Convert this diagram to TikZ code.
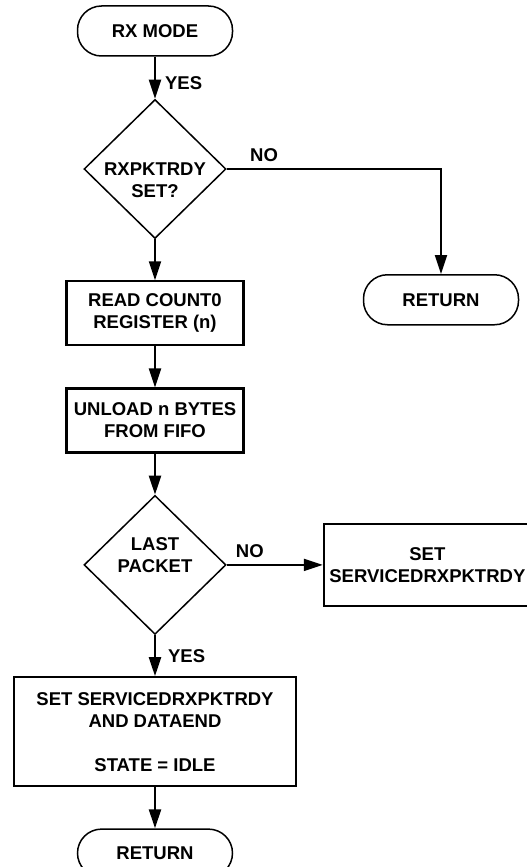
\documentclass[tikz,border=0pt]{standalone}
\usepackage{fontspec}
\setmainfont{Liberation Sans}
\usetikzlibrary{shapes.geometric, arrows.meta, positioning}

\begin{document}
\begin{tikzpicture}[
    node distance=41pt and 96pt,
    every node/.style={font=\bfseries\fontsize{18.5}{22}\selectfont},
    termbox/.style={rectangle, rounded corners=24pt, draw=black, line width=1.5pt, minimum width=155pt, minimum height=50pt, align=center},
    procbox/.style={rectangle, draw=black, line width=2.2pt, minimum width=177pt, minimum height=64pt, align=center, inner sep=2pt},
    decbox/.style={diamond, draw=black, line width=1.5pt, minimum width=142pt, minimum height=139pt, inner sep=0pt},
    dectext/.style={align=center, inner sep=0pt},
    lbl/.style={inner sep=1pt},
    arrow/.style={-{Triangle[length=19pt, width=12pt]}, line width=2.2pt}
]

\useasboundingbox (0pt,0pt) rectangle (527pt,-867pt);

\node[termbox] (rxmode) at (155pt,-31pt) {RX MODE};
\node[decbox, below=42pt of rxmode] (rxrdy) {};
\node[dectext] (rxrdytext) at ([yshift=-11pt]rxrdy.center) {RXPKTRDY\\SET?};
\node[termbox, below right=105pt and 136pt of rxrdy.east] (return1) {RETURN};
\node[procbox, below=of rxrdy] (readcnt) {READ COUNT0\\REGISTER (n)};
\node[procbox, below=of readcnt] (unload) {UNLOAD n BYTES\\FROM FIFO};
\node[decbox, below=of unload] (lastpkt) {};
\node[dectext] (lastpkttext) at ([yshift=10pt]lastpkt.center) {LAST\\PACKET};
\node[procbox, right=of lastpkt, minimum width=207pt, minimum height=82pt] (setsvc) {SET\\SERVICEDRXPKTRDY};
\node[procbox, below=of lastpkt, minimum width=282pt, minimum height=109pt] (dataend) {SET SERVICEDRXPKTRDY\\AND DATAEND\\[22pt]STATE = IDLE};
\node[termbox, below=of dataend, minimum height=48pt] (return2) {RETURN};

\draw[arrow] (rxmode) -- node[lbl, pos=0.63, right=8pt] {YES} (rxrdy);
\draw[arrow] (rxrdy.east) -| node[lbl, pos=0.087, above=5pt] {NO} (return1.north);
\draw[arrow] (rxrdy) -- (readcnt);
\draw[arrow] (readcnt) -- (unload);
\draw[arrow] (unload) -- (lastpkt);
\draw[arrow] (lastpkt) -- node[lbl, pos=0.24, above=5pt] {NO} (setsvc);
\draw[arrow] (lastpkt) -- node[lbl, pos=0.51, right=11pt] {YES} (dataend);
\draw[arrow] (dataend) -- (return2);

\end{tikzpicture}
\end{document}
